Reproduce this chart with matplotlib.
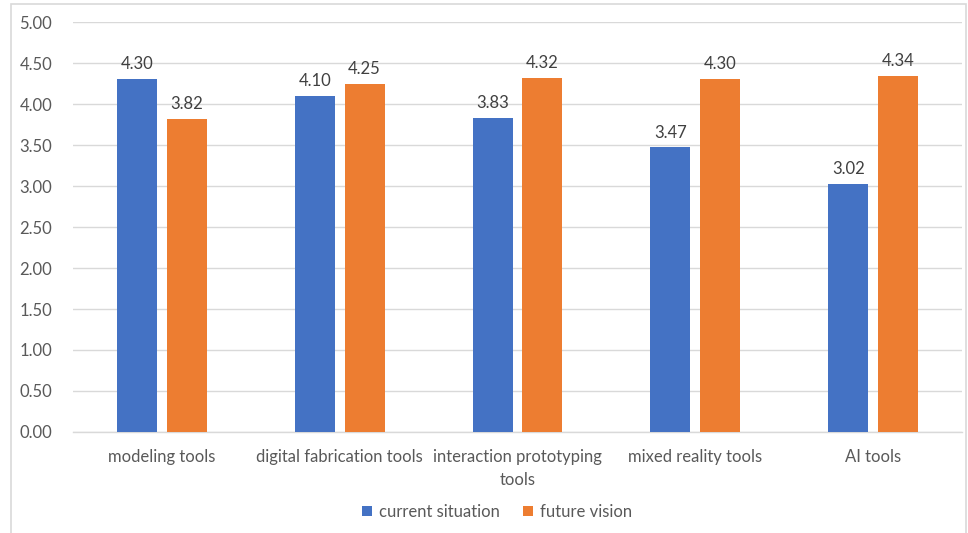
import numpy as np
import matplotlib.pyplot as plt
from matplotlib.patches import Rectangle

categories = ['modeling tools', 'digital fabrication tools', 'interaction prototyping\ntools',
              'mixed reality tools', 'AI tools']
current = [4.30, 4.10, 3.83, 3.47, 3.02]
future = [3.82, 4.25, 4.32, 4.30, 4.34]
series_names = ['current situation', 'future vision']
yticks = np.arange(0, 5.01, 0.5)

blue = '#4472C4'
orange = '#ED7D31'
text_c = '#595959'
grid_c = '#D9D9D9'

plt.rcParams['font.family'] = ['Lato', 'DejaVu Sans']

fig = plt.figure(figsize=(9.68, 5.33), dpi=100)
ax = fig.add_axes([0.0754, 0.1895, 0.9184, 0.7692])

# outer chart frame
fig.patches.append(Rectangle((11 / 968, -0.05), (966 - 11) / 968, 1.05 - 4 / 533,
                             transform=fig.transFigure, fill=False,
                             edgecolor=grid_c, linewidth=1.2))

x = np.arange(len(categories))
w = 0.225
off = 0.14
b1 = ax.bar(x - off, current, w, color=blue, label=series_names[0], zorder=3)
b2 = ax.bar(x + off, future, w, color=orange, label=series_names[1], zorder=3)

for bars, vals in ((b1, current), (b2, future)):
    for rect, v in zip(bars, vals):
        ax.annotate(f'{v:.2f}', (rect.get_x() + rect.get_width() / 2, v),
                    xytext=(0, 5), textcoords='offset points', ha='center', va='bottom',
                    fontsize=12, color='#404040')

ax.set_xlim(-0.5, len(categories) - 0.5)
ax.set_ylim(0, 5)
ax.set_yticks(yticks)
ax.set_yticklabels([f'{t:.2f}' for t in yticks])
ax.set_xticks(x)
ax.set_xticklabels(categories, linespacing=1.55)
ax.tick_params(axis='both', length=0, labelsize=12, labelcolor=text_c)
ax.tick_params(axis='y', pad=15)
ax.tick_params(axis='x', pad=12)
ax.grid(axis='y', color=grid_c, linewidth=1, zorder=0)
for s in ['top', 'right', 'left']:
    ax.spines[s].set_visible(False)
ax.spines['bottom'].set_color(grid_c)
ax.spines['bottom'].set_linewidth(1)

fig.legend(handles=[b1, b2], labels=series_names, loc='center', ncol=2,
           bbox_to_anchor=(497 / 968, 1 - 512 / 533), frameon=False,
           fontsize=12, labelcolor=text_c, handlelength=0.6, handleheight=0.6,
           handletextpad=0.4, columnspacing=1.4)

fig.savefig('out.png', dpi=100)
